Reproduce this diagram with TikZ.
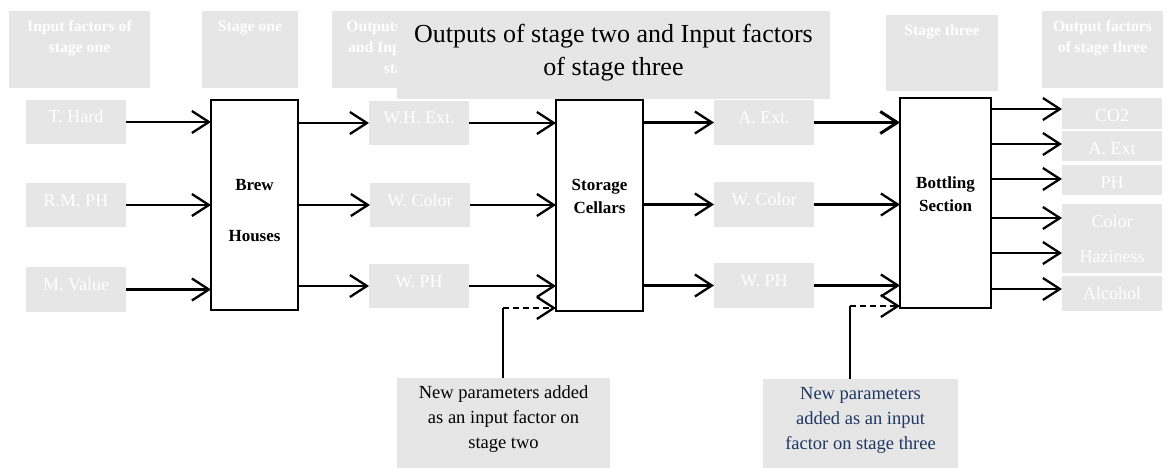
\documentclass[tikz,border=0pt]{standalone}
\usepackage{fontspec}
\setmainfont{Liberation Serif}
\usetikzlibrary{arrows.meta}
\definecolor{boxgray}{HTML}{E7E6E6}
\definecolor{navytext}{HTML}{1F3864}
\begin{document}
\begin{tikzpicture}[x=1pt,y=-1pt,
  gbox/.style={fill=boxgray, draw=none, inner sep=0pt, outer sep=0pt, anchor=north west},
  lbl/.style={gbox, text=white, font=\fontsize{18}{18}\selectfont, text height=12pt, text depth=10pt},
  rlbl/.style={gbox, text=white, font=\fontsize{18}{18}\selectfont, text height=17pt, text depth=0pt, minimum width=100pt},
  hdr/.style={text=white, font=\bfseries\fontsize{15.7}{21}\selectfont, align=center, inner sep=0pt, anchor=north},
  proc/.style={draw=black, line width=1.6pt, fill=white, inner sep=0pt, outer sep=0pt, anchor=north west},
  ptext/.style={font=\bfseries\fontsize{17}{23}\selectfont, align=center, inner sep=0pt, anchor=north},
  arr/.style={line width=2.3pt, -{Straight Barb[length=17pt,width=22pt]}},
  dasharr/.style={arr, dash pattern=on 6pt off 4pt},
  note/.style={font=\fontsize{18.5}{25}\selectfont, align=center, inner sep=0pt, anchor=north}
]
\useasboundingbox (0,0) rectangle (1175,468);

% header boxes
\node[gbox, minimum width=141pt, minimum height=77pt] (h1) at (9,11) {};
\node[hdr] (h1t) at (79.5,20.5) {Input factors of\\stage one};
\node[gbox, minimum width=96pt, minimum height=77pt] (h2) at (202,11) {};
\node[hdr] (h2t) at (250,20.5) {Stage one};
\node[gbox, minimum width=140pt, minimum height=77pt] (h3) at (332,11) {};
\begin{scope}
  \clip (332,11) rectangle (397,88);
  \node[hdr] (h3t) at (415,20.5) {Outputs of stage one\\and Input factors of\\stage two};
\end{scope}
\node[gbox, minimum width=433pt, minimum height=88pt] (h4) at (397,11) {};
\node[font=\fontsize{26}{33}\selectfont, align=center, inner sep=0pt, anchor=north] (h4t) at (613.5,23.5) {Outputs of stage two and Input factors\\of stage three};
\node[gbox, minimum width=112pt, minimum height=76pt] (h5) at (886,15) {};
\node[hdr] (h5t) at (942,24.5) {Stage three};
\node[gbox, minimum width=121pt, minimum height=77pt] (h6) at (1042,11) {};
\node[hdr] (h6t) at (1102.5,20.5) {Output factors\\of stage three};

% stage one inputs
\node[lbl, minimum width=100pt, minimum height=44pt] (thard) at (26,100) {T. Hard};
\node[lbl, minimum width=100pt, minimum height=44pt] (rmph) at (26,183) {R.M. PH};
\node[lbl, minimum width=100pt, minimum height=45pt] (mval) at (26,267) {M. Value};

% brew houses
\node[proc, minimum width=87pt, minimum height=210pt] (brew) at (211,100) {};
\node[ptext, font=\bfseries\fontsize{17}{51}\selectfont] (brewt) at (254.5,178.7) {Brew\\Houses};

% stage two inputs
\node[lbl, minimum width=100pt, minimum height=44pt] (whext) at (369,101) {W.H. Ext.};
\node[lbl, minimum width=100pt, minimum height=44pt] (wcolA) at (370,183) {W. Color};
\node[lbl, minimum width=100pt, minimum height=44pt] (wphA) at (369,264) {W. PH};

% storage cellars
\node[proc, minimum width=87pt, minimum height=211pt] (stor) at (556,100) {};
\node[ptext] (stort) at (599.5,178.7) {Storage\\Cellars};

% stage three inputs
\node[lbl, minimum width=100pt, minimum height=45pt] (aextA) at (714,100) {A. Ext.};
\node[lbl, minimum width=100pt, minimum height=45pt] (wcolB) at (714,182) {W. Color};
\node[lbl, minimum width=100pt, minimum height=45pt] (wphB) at (714,263) {W. PH};

% bottling section
\node[proc, minimum width=91pt, minimum height=210pt] (bott) at (900,98) {};
\node[ptext] (bottt) at (945.5,176.7) {Bottling\\Section};

% outputs of stage three
\node[rlbl, minimum height=31pt] (co2) at (1062,98) {CO2};
\node[rlbl, minimum height=30pt] (aextB) at (1062,131) {A. Ext};
\node[rlbl, minimum height=30pt] (ph) at (1062,165) {PH};
\node[gbox, minimum width=100pt, minimum height=69pt] (colhaz) at (1062,204) {};
\node[text=white, font=\fontsize{18}{35}\selectfont, align=center, inner sep=0pt, anchor=north] (colhazt) at (1112,214.7) {Color\\Haziness};
\node[rlbl, minimum height=35pt, text height=15pt, text depth=4pt] (alc) at (1062,276) {Alcohol};

% notes
\node[gbox, minimum width=213pt, minimum height=90pt] (note1) at (397,378) {};
\node[note] (note1t) at (503.5,385.5) {New parameters added\\as an input factor on\\stage two};
\node[gbox, minimum width=195pt, minimum height=89pt] (note2) at (763,379) {};
\node[note, text=navytext] (note2t) at (860.5,387.4) {New parameters\\added as an input\\factor on stage three};

% arrows stage one
\draw[arr] (thard.east) -- (thard.east -| brew.west);
\draw[arr] (rmph.east) -- (rmph.east -| brew.west);
\draw[arr] (mval.east) -- (mval.east -| brew.west);
\draw[arr] (brew.east |- whext.west) -- (whext.west);
\draw[arr] (brew.east |- wcolA.west) -- (wcolA.west);
\draw[arr] (brew.east |- wphA.west) -- (wphA.west);

% arrows stage two
\draw[arr] (whext.east) -- (whext.east -| stor.west);
\draw[arr] (wcolA.east) -- (wcolA.east -| stor.west);
\draw[arr] (wphA.east) -- (wphA.east -| stor.west);
\draw[arr] (stor.east |- aextA.west) -- (aextA.west);
\draw[arr] (stor.east |- wcolB.west) -- (wcolB.west);
\draw[arr] (stor.east |- wphB.west) -- (wphB.west);

% arrows stage three
\draw[arr, line width=3pt] (aextA.east) -- (aextA.east -| bott.west);
\draw[arr] (wcolB.east) -- (wcolB.east -| bott.west);
\draw[arr] (wphB.east) -- (wphB.east -| bott.west);
\draw[arr] (bott.east |- 0,109) -- (co2.west |- 0,109);
\draw[arr] (bott.east |- 0,144) -- (aextB.west |- 0,144);
\draw[arr] (bott.east |- 0,179) -- (ph.west |- 0,179);
\draw[arr] (bott.east |- 0,218) -- (colhaz.west |- 0,218);
\draw[arr] (bott.east |- 0,253) -- (colhaz.west |- 0,253);
\draw[arr] (bott.east |- 0,289) -- (alc.west |- 0,289);

% new parameter connectors
\coordinate (d1) at (503,308);
\draw[line width=2pt] (note1.north -| d1) -- (d1);
\draw[dasharr] (d1) -- (d1 -| stor.west);
\coordinate (d2) at (850,306);
\draw[line width=2pt] (note2.north -| d2) -- (d2);
\draw[dasharr] (d2) -- (d2 -| bott.west);
\end{tikzpicture}
\end{document}
